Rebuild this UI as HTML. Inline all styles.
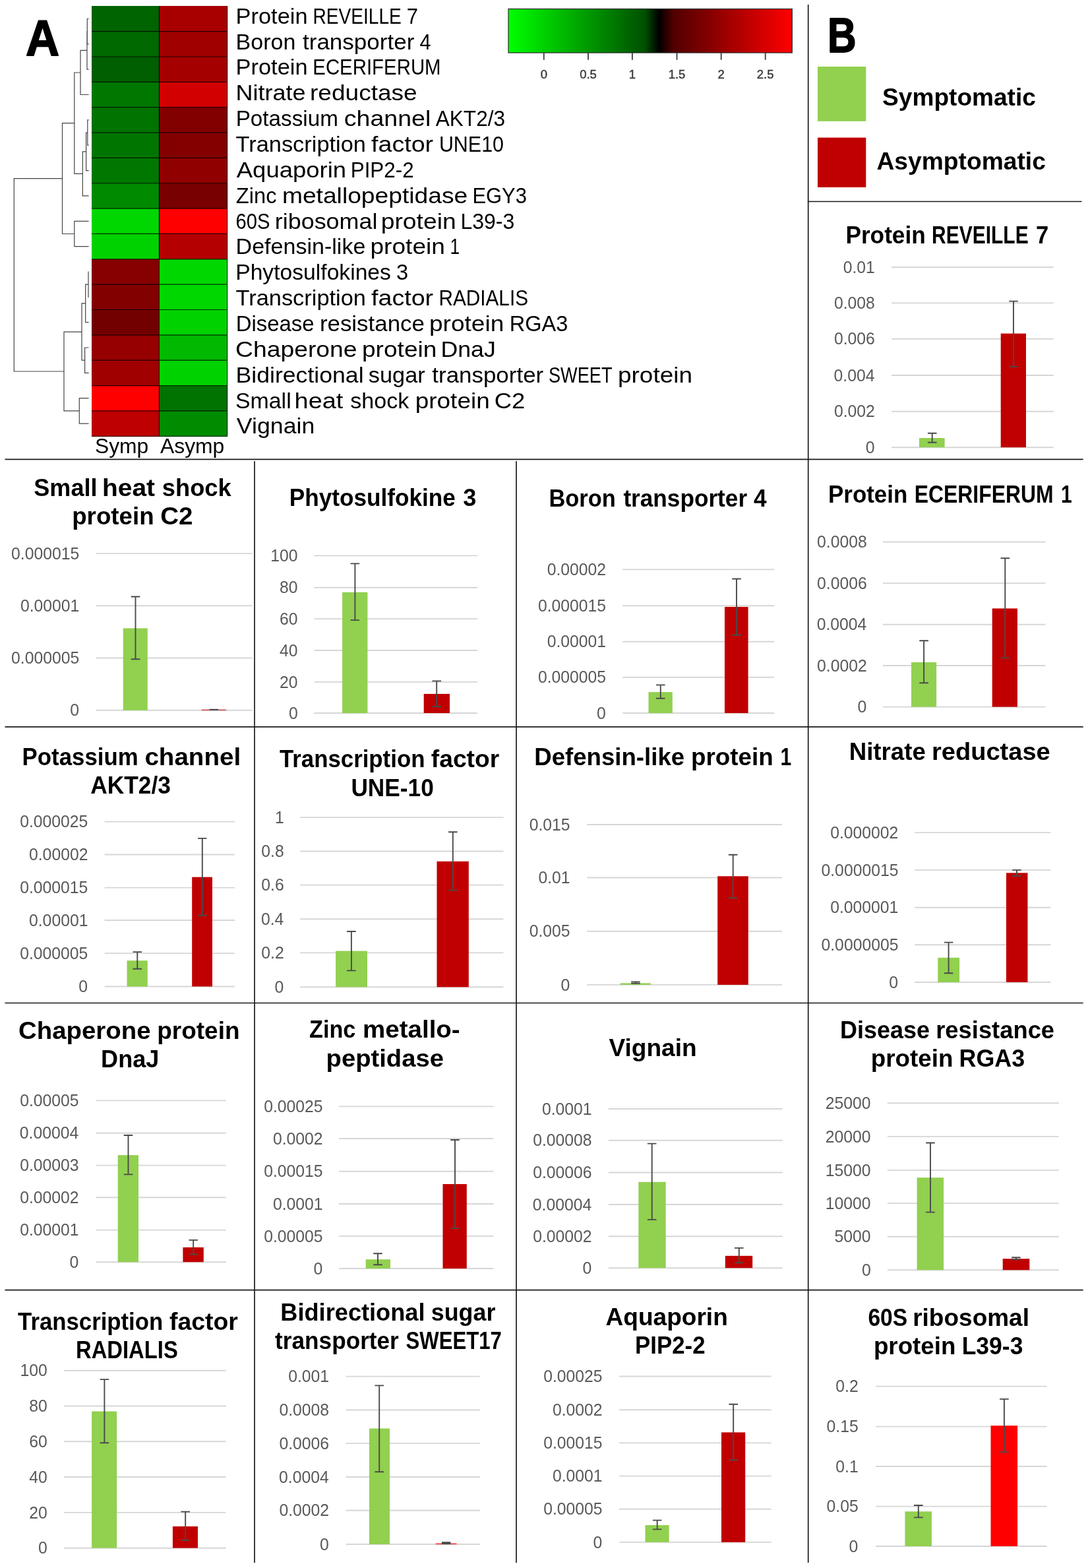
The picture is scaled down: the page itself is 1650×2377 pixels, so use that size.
<!DOCTYPE html>
<html lang="en"><head><meta charset="utf-8"><title>Figure: heatmap and qPCR expression panels</title>
<style>
html,body{margin:0;padding:0;background:#fff}
svg{display:block;width:1650px;height:2377px}
text{font-family:"Liberation Sans",sans-serif}
.tt{font-weight:700;fill:#000}
.big{font-weight:700;fill:#000;stroke:#000;stroke-width:1.8px;stroke-linejoin:round}
.hl{fill:#000}
.al{fill:#595959}
.cbl{fill:#3a3a3a;stroke:#3a3a3a;stroke-width:.45px}
</style></head><body>
<svg width="1650" height="2377" viewBox="0 0 1650 2377">
<defs><linearGradient id="cb" x1="0" y1="0" x2="1" y2="0"><stop offset="0" stop-color="#00ff00"/><stop offset="0.48" stop-color="#005000"/><stop offset="0.531" stop-color="#000000"/><stop offset="0.58" stop-color="#500000"/><stop offset="1" stop-color="#ff0000"/></linearGradient></defs>
<rect width="1650" height="2377" fill="#fff"/>
<g shape-rendering="crispEdges">
<rect x="139.0" y="9.30" width="102.7" height="38.65" fill="rgb(0, 100, 0)"/>
<rect x="241.4" y="9.30" width="103.2" height="38.65" fill="rgb(168, 0, 0)"/>
<rect x="139.0" y="47.65" width="102.7" height="38.65" fill="rgb(0, 105, 0)"/>
<rect x="241.4" y="47.65" width="103.2" height="38.65" fill="rgb(160, 0, 0)"/>
<rect x="139.0" y="86.00" width="102.7" height="38.65" fill="rgb(0, 95, 0)"/>
<rect x="241.4" y="86.00" width="103.2" height="38.65" fill="rgb(165, 0, 0)"/>
<rect x="139.0" y="124.35" width="102.7" height="38.65" fill="rgb(0, 120, 0)"/>
<rect x="241.4" y="124.35" width="103.2" height="38.65" fill="rgb(210, 0, 0)"/>
<rect x="139.0" y="162.70" width="102.7" height="38.65" fill="rgb(0, 115, 0)"/>
<rect x="241.4" y="162.70" width="103.2" height="38.65" fill="rgb(130, 0, 0)"/>
<rect x="139.0" y="201.05" width="102.7" height="38.65" fill="rgb(0, 118, 0)"/>
<rect x="241.4" y="201.05" width="103.2" height="38.65" fill="rgb(132, 0, 0)"/>
<rect x="139.0" y="239.40" width="102.7" height="38.65" fill="rgb(0, 120, 0)"/>
<rect x="241.4" y="239.40" width="103.2" height="38.65" fill="rgb(145, 0, 0)"/>
<rect x="139.0" y="277.75" width="102.7" height="38.65" fill="rgb(0, 138, 0)"/>
<rect x="241.4" y="277.75" width="103.2" height="38.65" fill="rgb(120, 0, 0)"/>
<rect x="139.0" y="316.10" width="102.7" height="38.65" fill="rgb(0, 215, 0)"/>
<rect x="241.4" y="316.10" width="103.2" height="38.65" fill="rgb(255, 0, 0)"/>
<rect x="139.0" y="354.45" width="102.7" height="38.65" fill="rgb(0, 210, 0)"/>
<rect x="241.4" y="354.45" width="103.2" height="38.65" fill="rgb(180, 0, 0)"/>
<rect x="139.0" y="392.80" width="102.7" height="38.65" fill="rgb(135, 0, 0)"/>
<rect x="241.4" y="392.80" width="103.2" height="38.65" fill="rgb(0, 215, 0)"/>
<rect x="139.0" y="431.15" width="102.7" height="38.65" fill="rgb(130, 0, 0)"/>
<rect x="241.4" y="431.15" width="103.2" height="38.65" fill="rgb(0, 215, 0)"/>
<rect x="139.0" y="469.50" width="102.7" height="38.65" fill="rgb(115, 0, 0)"/>
<rect x="241.4" y="469.50" width="103.2" height="38.65" fill="rgb(0, 210, 0)"/>
<rect x="139.0" y="507.85" width="102.7" height="38.65" fill="rgb(150, 0, 0)"/>
<rect x="241.4" y="507.85" width="103.2" height="38.65" fill="rgb(0, 185, 0)"/>
<rect x="139.0" y="546.20" width="102.7" height="38.65" fill="rgb(160, 0, 0)"/>
<rect x="241.4" y="546.20" width="103.2" height="38.65" fill="rgb(0, 210, 0)"/>
<rect x="139.0" y="584.55" width="102.7" height="38.65" fill="rgb(255, 0, 0)"/>
<rect x="241.4" y="584.55" width="103.2" height="38.65" fill="rgb(0, 115, 0)"/>
<rect x="139.0" y="622.90" width="102.7" height="38.65" fill="rgb(190, 0, 0)"/>
<rect x="241.4" y="622.90" width="103.2" height="38.65" fill="rgb(0, 140, 0)"/>
</g>
<path d="M139.0 47.65H344.6M139.0 86.00H344.6M139.0 124.35H344.6M139.0 162.70H344.6M139.0 201.05H344.6M139.0 239.40H344.6M139.0 277.75H344.6M139.0 316.10H344.6M139.0 354.45H344.6M139.0 392.80H344.6M139.0 431.15H344.6M139.0 469.50H344.6M139.0 507.85H344.6M139.0 546.20H344.6M139.0 584.55H344.6M139.0 622.90H344.6M139.0 661.25H344.6M241.4 9.3V661.25M344.6 9.3V661.25" fill="none" stroke="#000" stroke-opacity="0.8" stroke-width="1.2"/>
<text class="hl" y="35.7" font-size="33"><tspan x="357.6" textLength="118.5" lengthAdjust="spacingAndGlyphs">Protein </tspan><tspan x="474.4" textLength="142.3" lengthAdjust="spacingAndGlyphs">REVEILLE </tspan><tspan x="616.8" textLength="17.2" lengthAdjust="spacingAndGlyphs">7</tspan></text>
<text class="hl" y="74.6" font-size="33"><tspan x="357.6" textLength="100.2" lengthAdjust="spacingAndGlyphs">Boron </tspan><tspan x="459.0" textLength="179.1" lengthAdjust="spacingAndGlyphs">transporter </tspan><tspan x="636.5" textLength="17.0" lengthAdjust="spacingAndGlyphs">4</tspan></text>
<text class="hl" y="113.4" font-size="33"><tspan x="357.6" textLength="118.5" lengthAdjust="spacingAndGlyphs">Protein </tspan><tspan x="474.3" textLength="194.3" lengthAdjust="spacingAndGlyphs">ECERIFERUM</tspan></text>
<text class="hl" y="152.2" font-size="33"><tspan x="357.5" textLength="116.0" lengthAdjust="spacingAndGlyphs">Nitrate </tspan><tspan x="470.0" textLength="162.7" lengthAdjust="spacingAndGlyphs">reductase</tspan></text>
<text class="hl" y="191.1" font-size="33"><tspan x="357.7" textLength="164.5" lengthAdjust="spacingAndGlyphs">Potassium </tspan><tspan x="521.8" textLength="141.9" lengthAdjust="spacingAndGlyphs">channel </tspan><tspan x="660.8" textLength="105.2" lengthAdjust="spacingAndGlyphs">AKT2/3</tspan></text>
<text class="hl" y="229.9" font-size="33"><tspan x="357.5" textLength="207.0" lengthAdjust="spacingAndGlyphs">Transcription </tspan><tspan x="563.0" textLength="104.6" lengthAdjust="spacingAndGlyphs">factor </tspan><tspan x="665.9" textLength="98.1" lengthAdjust="spacingAndGlyphs">UNE10</tspan></text>
<text class="hl" y="268.8" font-size="33"><tspan x="358.8" textLength="176.4" lengthAdjust="spacingAndGlyphs">Aquaporin </tspan><tspan x="531.7" textLength="96.0" lengthAdjust="spacingAndGlyphs">PIP2-2</tspan></text>
<text class="hl" y="307.6" font-size="33"><tspan x="357.8" textLength="70.8" lengthAdjust="spacingAndGlyphs">Zinc </tspan><tspan x="427.9" textLength="291.7" lengthAdjust="spacingAndGlyphs">metallopeptidase </tspan><tspan x="716.4" textLength="82.6" lengthAdjust="spacingAndGlyphs">EGY3</tspan></text>
<text class="hl" y="346.5" font-size="33"><tspan x="357.4" textLength="60.1" lengthAdjust="spacingAndGlyphs">60S </tspan><tspan x="416.8" textLength="165.6" lengthAdjust="spacingAndGlyphs">ribosomal </tspan><tspan x="577.7" textLength="124.4" lengthAdjust="spacingAndGlyphs">protein </tspan><tspan x="698.4" textLength="81.9" lengthAdjust="spacingAndGlyphs">L39-3</tspan></text>
<text class="hl" y="385.4" font-size="33"><tspan x="357.6" textLength="206.2" lengthAdjust="spacingAndGlyphs">Defensin-like </tspan><tspan x="561.5" textLength="123.7" lengthAdjust="spacingAndGlyphs">protein </tspan><tspan x="682.6" textLength="14.7" lengthAdjust="spacingAndGlyphs">1</tspan></text>
<text class="hl" y="424.2" font-size="33"><tspan x="357.2" textLength="245.1" lengthAdjust="spacingAndGlyphs">Phytosulfokines </tspan><tspan x="600.9" textLength="18.1" lengthAdjust="spacingAndGlyphs">3</tspan></text>
<text class="hl" y="463.1" font-size="33"><tspan x="357.5" textLength="207.0" lengthAdjust="spacingAndGlyphs">Transcription </tspan><tspan x="563.0" textLength="104.6" lengthAdjust="spacingAndGlyphs">factor </tspan><tspan x="665.5" textLength="135.5" lengthAdjust="spacingAndGlyphs">RADIALIS</tspan></text>
<text class="hl" y="501.9" font-size="33"><tspan x="357.7" textLength="128.0" lengthAdjust="spacingAndGlyphs">Disease </tspan><tspan x="484.9" textLength="168.7" lengthAdjust="spacingAndGlyphs">resistance </tspan><tspan x="651.0" textLength="123.6" lengthAdjust="spacingAndGlyphs">protein </tspan><tspan x="772.7" textLength="88.6" lengthAdjust="spacingAndGlyphs">RGA3</tspan></text>
<text class="hl" y="540.8" font-size="33"><tspan x="357.1" textLength="194.8" lengthAdjust="spacingAndGlyphs">Chaperone </tspan><tspan x="549.0" textLength="123.7" lengthAdjust="spacingAndGlyphs">protein </tspan><tspan x="668.5" textLength="83.3" lengthAdjust="spacingAndGlyphs">DnaJ</tspan></text>
<text class="hl" y="579.6" font-size="33"><tspan x="357.5" textLength="204.0" lengthAdjust="spacingAndGlyphs">Bidirectional </tspan><tspan x="558.8" textLength="95.4" lengthAdjust="spacingAndGlyphs">sugar </tspan><tspan x="655.3" textLength="178.6" lengthAdjust="spacingAndGlyphs">transporter </tspan><tspan x="832.0" textLength="103.6" lengthAdjust="spacingAndGlyphs">SWEET </tspan><tspan x="937.0" textLength="113.0" lengthAdjust="spacingAndGlyphs">protein</tspan></text>
<text class="hl" y="618.5" font-size="33"><tspan x="356.9" textLength="94.2" lengthAdjust="spacingAndGlyphs">Small </tspan><tspan x="446.6" textLength="84.3" lengthAdjust="spacingAndGlyphs">heat </tspan><tspan x="531.2" textLength="98.5" lengthAdjust="spacingAndGlyphs">shock </tspan><tspan x="629.7" textLength="123.3" lengthAdjust="spacingAndGlyphs">protein </tspan><tspan x="749.7" textLength="46.5" lengthAdjust="spacingAndGlyphs">C2</tspan></text>
<text class="hl" y="657.3" font-size="33"><tspan x="358.8" textLength="118.5" lengthAdjust="spacingAndGlyphs">Vignain</tspan></text>
<text class="hl" y="687.0" font-size="32"><tspan x="144.0" textLength="81.3" lengthAdjust="spacingAndGlyphs">Symp</tspan></text>
<text class="hl" y="687.0" font-size="32"><tspan x="243.0" textLength="97.3" lengthAdjust="spacingAndGlyphs">Asymp</tspan></text>
<path d="M134.6 28.5H132.3V66.8H134.6M132.3 47.7H132.0V105.2H134.6M132.0 76.4H122.0V143.5H134.6M134.6 181.9H132.8V220.2H134.6M132.8 201.1H130.6V258.6H134.6M130.6 229.8H125.3V296.9H134.6M122.0 110.0H112.8V263.4H125.3M134.6 335.3H112.8V373.6H134.6M112.8 186.7H94.5V354.5H112.8M134.6 412.0H134.0V450.3H134.6M134.0 431.2H129.7V488.7H134.6M134.6 527.0H128.6V565.4H134.6M129.7 459.9H124.0V546.2H128.6M134.6 603.7H120.3V642.1H134.6M124.0 503.1H97.0V622.9H120.3M94.5 270.6H21.3V563.0H97.0" fill="none" stroke="#444" stroke-width="1.2"/>
<rect x="771.0" y="13.5" width="430.3" height="66.5" fill="url(#cb)" stroke="#262626" stroke-width="1.2"/>
<path stroke="#444" stroke-width="1.9" fill="none" d="M824.8 80.0V90.8M892.0 80.0V90.8M958.9 80.0V90.8M1026.5 80.0V90.8M1093.7 80.0V90.8M1160.7 80.0V90.8"/>
<text class="cbl" x="824.8" y="119.2" font-size="18.5" text-anchor="middle">0</text>
<text class="cbl" x="892.0" y="119.2" font-size="18.5" text-anchor="middle">0.5</text>
<text class="cbl" x="958.9" y="119.2" font-size="18.5" text-anchor="middle">1</text>
<text class="cbl" x="1026.5" y="119.2" font-size="18.5" text-anchor="middle">1.5</text>
<text class="cbl" x="1093.7" y="119.2" font-size="18.5" text-anchor="middle">2</text>
<text class="cbl" x="1160.7" y="119.2" font-size="18.5" text-anchor="middle">2.5</text>
<text class="big" y="84.1" font-size="76.2"><tspan x="39.0" textLength="51.1" lengthAdjust="spacingAndGlyphs">A</tspan></text>
<text class="big" y="79.4" font-size="74.5"><tspan x="1254.9" textLength="43.6" lengthAdjust="spacingAndGlyphs">B</tspan></text>
<rect x="1240" y="101" width="73.3" height="82.8" fill="#92d050"/>
<rect x="1240" y="208.6" width="73.3" height="75.3" fill="#c00000"/>
<text class="tt" y="160.0" font-size="37.5"><tspan x="1338.1" textLength="232.8" lengthAdjust="spacingAndGlyphs">Symptomatic</tspan></text>
<text class="tt" y="257.0" font-size="37.5"><tspan x="1329.4" textLength="256.5" lengthAdjust="spacingAndGlyphs">Asymptomatic</tspan></text>
<g>
<text class="tt" y="369.0" font-size="37.5"><tspan x="1282.4" textLength="131.2" lengthAdjust="spacingAndGlyphs">Protein </tspan><tspan x="1413.0" textLength="155.0" lengthAdjust="spacingAndGlyphs">REVEILLE </tspan><tspan x="1571.1" textLength="19.3" lengthAdjust="spacingAndGlyphs">7</tspan></text>
<path stroke="#d6d6d6" stroke-width="1.9" fill="none" d="M1352.2 405H1597.8M1352.2 459.4H1597.8M1352.2 513.8H1597.8M1352.2 569H1597.8M1352.2 623.7H1597.8M1352.2 678.2H1597.8"/>
<text class="al" y="413.6" font-size="25.9"><tspan x="1278.7" textLength="48.1" lengthAdjust="spacingAndGlyphs">0.01</tspan></text>
<text class="al" y="468.0" font-size="25.9"><tspan x="1264.9" textLength="61.9" lengthAdjust="spacingAndGlyphs">0.008</tspan></text>
<text class="al" y="522.4" font-size="25.9"><tspan x="1264.9" textLength="61.9" lengthAdjust="spacingAndGlyphs">0.006</tspan></text>
<text class="al" y="577.6" font-size="25.9"><tspan x="1264.5" textLength="61.9" lengthAdjust="spacingAndGlyphs">0.004</tspan></text>
<text class="al" y="632.3" font-size="25.9"><tspan x="1264.9" textLength="61.9" lengthAdjust="spacingAndGlyphs">0.002</tspan></text>
<text class="al" y="686.8" font-size="25.9"><tspan x="1312.7" textLength="13.8" lengthAdjust="spacingAndGlyphs">0</tspan></text>
<rect x="1394" y="664" width="38.6" height="14.2" fill="#92d050"/>
<rect x="1517.7" y="505.6" width="38.3" height="172.6" fill="#c00000"/>
<path stroke="#4a4a4a" stroke-width="1.9" fill="none" d="M1413.7 656.7V670.8M1406.9 656.7h13.6M1406.9 670.8h13.6M1537 456.6V555.8M1530.2 456.6h13.6M1530.2 555.8h13.6"/>
</g>
<g>
<text class="tt" y="751.9" font-size="37.5"><tspan x="51.3" textLength="106.2" lengthAdjust="spacingAndGlyphs">Small </tspan><tspan x="155.0" textLength="90.8" lengthAdjust="spacingAndGlyphs">heat </tspan><tspan x="245.8" textLength="104.9" lengthAdjust="spacingAndGlyphs">shock</tspan></text>
<text class="tt" y="795.3" font-size="37.5"><tspan x="109.2" textLength="134.6" lengthAdjust="spacingAndGlyphs">protein </tspan><tspan x="243.2" textLength="49.3" lengthAdjust="spacingAndGlyphs">C2</tspan></text>
<path stroke="#d6d6d6" stroke-width="1.9" fill="none" d="M145.9 839.1H382.7M145.9 918.3H382.7M145.9 997.5H382.7M145.9 1076.7H382.7"/>
<text class="al" y="847.7" font-size="25.9"><tspan x="17.1" textLength="103.2" lengthAdjust="spacingAndGlyphs">0.000015</tspan></text>
<text class="al" y="926.9" font-size="25.9"><tspan x="30.9" textLength="89.4" lengthAdjust="spacingAndGlyphs">0.00001</tspan></text>
<text class="al" y="1006.1" font-size="25.9"><tspan x="17.1" textLength="103.2" lengthAdjust="spacingAndGlyphs">0.000005</tspan></text>
<text class="al" y="1085.3" font-size="25.9"><tspan x="106.2" textLength="13.8" lengthAdjust="spacingAndGlyphs">0</tspan></text>
<rect x="186.7" y="952.4" width="37.1" height="124.3" fill="#92d050"/>
<rect x="305.8" y="1075.7" width="37.1" height="1.0" fill="#c00000"/>
<path stroke="#4a4a4a" stroke-width="1.9" fill="none" d="M205.5 904.5V999.3M198.7 904.5h13.6M198.7 999.3h13.6M324.3 1075.6V1076.0M317.5 1075.6h13.6M317.5 1076.0h13.6"/>
</g>
<g>
<text class="tt" y="767.2" font-size="37.5"><tspan x="438.7" textLength="262.0" lengthAdjust="spacingAndGlyphs">Phytosulfokine </tspan><tspan x="702.2" textLength="20.1" lengthAdjust="spacingAndGlyphs">3</tspan></text>
<path stroke="#d6d6d6" stroke-width="1.9" fill="none" d="M476.5 842.4H724.1M476.5 890.8H724.1M476.5 938.1H724.1M476.5 986H724.1M476.5 1033.9H724.1M476.5 1081H724.1"/>
<text class="al" y="851.0" font-size="25.9"><tspan x="410.3" textLength="41.3" lengthAdjust="spacingAndGlyphs">100</tspan></text>
<text class="al" y="899.4" font-size="25.9"><tspan x="424.1" textLength="27.5" lengthAdjust="spacingAndGlyphs">80</tspan></text>
<text class="al" y="946.7" font-size="25.9"><tspan x="424.1" textLength="27.5" lengthAdjust="spacingAndGlyphs">60</tspan></text>
<text class="al" y="994.6" font-size="25.9"><tspan x="424.1" textLength="27.5" lengthAdjust="spacingAndGlyphs">40</tspan></text>
<text class="al" y="1042.5" font-size="25.9"><tspan x="424.1" textLength="27.5" lengthAdjust="spacingAndGlyphs">20</tspan></text>
<text class="al" y="1089.6" font-size="25.9"><tspan x="437.9" textLength="13.8" lengthAdjust="spacingAndGlyphs">0</tspan></text>
<rect x="519.1" y="897.8" width="38.3" height="183.2" fill="#92d050"/>
<rect x="642.7" y="1051.9" width="39.3" height="29.1" fill="#c00000"/>
<path stroke="#4a4a4a" stroke-width="1.9" fill="none" d="M538.4 854.4V940.1M531.6 854.4h13.6M531.6 940.1h13.6M662.2 1032.4V1071.2M655.4 1032.4h13.6M655.4 1071.2h13.6"/>
</g>
<g>
<text class="tt" y="767.7" font-size="37.5"><tspan x="832.4" textLength="110.9" lengthAdjust="spacingAndGlyphs">Boron </tspan><tspan x="945.4" textLength="197.5" lengthAdjust="spacingAndGlyphs">transporter </tspan><tspan x="1142.9" textLength="19.6" lengthAdjust="spacingAndGlyphs">4</tspan></text>
<path stroke="#d6d6d6" stroke-width="1.9" fill="none" d="M944.2 863.4H1174.2M944.2 918.3H1174.2M944.2 972.7H1174.2M944.2 1026.8H1174.2M944.2 1081H1174.2"/>
<text class="al" y="872.0" font-size="25.9"><tspan x="829.7" textLength="89.4" lengthAdjust="spacingAndGlyphs">0.00002</tspan></text>
<text class="al" y="926.9" font-size="25.9"><tspan x="815.9" textLength="103.2" lengthAdjust="spacingAndGlyphs">0.000015</tspan></text>
<text class="al" y="981.3" font-size="25.9"><tspan x="829.7" textLength="89.4" lengthAdjust="spacingAndGlyphs">0.00001</tspan></text>
<text class="al" y="1035.4" font-size="25.9"><tspan x="815.9" textLength="103.2" lengthAdjust="spacingAndGlyphs">0.000005</tspan></text>
<text class="al" y="1089.6" font-size="25.9"><tspan x="905.0" textLength="13.8" lengthAdjust="spacingAndGlyphs">0</tspan></text>
<rect x="983.5" y="1049.1" width="36.3" height="31.9" fill="#92d050"/>
<rect x="1099" y="920" width="35.6" height="161.0" fill="#c00000"/>
<path stroke="#4a4a4a" stroke-width="1.9" fill="none" d="M1001.8 1038.4V1058.7M995.0 1038.4h13.6M995.0 1058.7h13.6M1117 877.5V962.7M1110.2 877.5h13.6M1110.2 962.7h13.6"/>
</g>
<g>
<text class="tt" y="762.2" font-size="37.5"><tspan x="1256.0" textLength="130.0" lengthAdjust="spacingAndGlyphs">Protein </tspan><tspan x="1386.7" textLength="219.8" lengthAdjust="spacingAndGlyphs">ECERIFERUM </tspan><tspan x="1609.0" textLength="16.7" lengthAdjust="spacingAndGlyphs">1</tspan></text>
<path stroke="#d6d6d6" stroke-width="1.9" fill="none" d="M1339 821.5H1585.5M1339 884.1H1585.5M1339 946.7H1585.5M1339 1009H1585.5M1339 1071.6H1585.5"/>
<text class="al" y="830.1" font-size="25.9"><tspan x="1239.0" textLength="75.7" lengthAdjust="spacingAndGlyphs">0.0008</tspan></text>
<text class="al" y="892.7" font-size="25.9"><tspan x="1239.0" textLength="75.7" lengthAdjust="spacingAndGlyphs">0.0006</tspan></text>
<text class="al" y="955.3" font-size="25.9"><tspan x="1238.7" textLength="75.7" lengthAdjust="spacingAndGlyphs">0.0004</tspan></text>
<text class="al" y="1017.6" font-size="25.9"><tspan x="1239.0" textLength="75.7" lengthAdjust="spacingAndGlyphs">0.0002</tspan></text>
<text class="al" y="1080.2" font-size="25.9"><tspan x="1300.6" textLength="13.8" lengthAdjust="spacingAndGlyphs">0</tspan></text>
<rect x="1382" y="1004" width="38.1" height="67.6" fill="#92d050"/>
<rect x="1504.7" y="922.4" width="38.3" height="149.2" fill="#c00000"/>
<path stroke="#4a4a4a" stroke-width="1.9" fill="none" d="M1401.1 971.2V1035.2M1394.3 971.2h13.6M1394.3 1035.2h13.6M1524.3 846.3V997.4M1517.5 846.3h13.6M1517.5 997.4h13.6"/>
</g>
<g>
<text class="tt" y="1159.7" font-size="37.5"><tspan x="33.6" textLength="185.7" lengthAdjust="spacingAndGlyphs">Potassium </tspan><tspan x="219.4" textLength="145.8" lengthAdjust="spacingAndGlyphs">channel</tspan></text>
<text class="tt" y="1203.3" font-size="37.5"><tspan x="137.2" textLength="121.7" lengthAdjust="spacingAndGlyphs">AKT2/3</tspan></text>
<path stroke="#d6d6d6" stroke-width="1.9" fill="none" d="M158.6 1245.6H355.9M158.6 1295.5H355.9M158.6 1345.6H355.9M158.6 1395H355.9M158.6 1445.1H355.9M158.6 1495.5H355.9"/>
<text class="al" y="1254.2" font-size="25.9"><tspan x="30.2" textLength="103.2" lengthAdjust="spacingAndGlyphs">0.000025</tspan></text>
<text class="al" y="1304.1" font-size="25.9"><tspan x="44.0" textLength="89.4" lengthAdjust="spacingAndGlyphs">0.00002</tspan></text>
<text class="al" y="1354.2" font-size="25.9"><tspan x="30.2" textLength="103.2" lengthAdjust="spacingAndGlyphs">0.000015</tspan></text>
<text class="al" y="1403.6" font-size="25.9"><tspan x="44.0" textLength="89.4" lengthAdjust="spacingAndGlyphs">0.00001</tspan></text>
<text class="al" y="1453.7" font-size="25.9"><tspan x="30.2" textLength="103.2" lengthAdjust="spacingAndGlyphs">0.000005</tspan></text>
<text class="al" y="1504.1" font-size="25.9"><tspan x="119.3" textLength="13.8" lengthAdjust="spacingAndGlyphs">0</tspan></text>
<rect x="192.5" y="1456.2" width="31.3" height="39.3" fill="#92d050"/>
<rect x="291.2" y="1329.6" width="30.8" height="165.9" fill="#c00000"/>
<path stroke="#4a4a4a" stroke-width="1.9" fill="none" d="M208.3 1443.1V1468.7M201.5 1443.1h13.6M201.5 1468.7h13.6M306.8 1270.9V1387.7M300.0 1270.9h13.6M300.0 1387.7h13.6"/>
</g>
<g>
<text class="tt" y="1163.2" font-size="37.5"><tspan x="423.9" textLength="230.2" lengthAdjust="spacingAndGlyphs">Transcription </tspan><tspan x="653.8" textLength="103.4" lengthAdjust="spacingAndGlyphs">factor</tspan></text>
<text class="tt" y="1206.5" font-size="37.5"><tspan x="532.4" textLength="125.4" lengthAdjust="spacingAndGlyphs">UNE-10</tspan></text>
<path stroke="#d6d6d6" stroke-width="1.9" fill="none" d="M455.2 1239.1H763.5M455.2 1290.5H763.5M455.2 1341.6H763.5M455.2 1393.2H763.5M455.2 1444.4H763.5M455.2 1496.3H763.5"/>
<text class="al" y="1247.7" font-size="25.9"><tspan x="416.9" textLength="13.8" lengthAdjust="spacingAndGlyphs">1</tspan></text>
<text class="al" y="1299.1" font-size="25.9"><tspan x="396.3" textLength="34.4" lengthAdjust="spacingAndGlyphs">0.8</tspan></text>
<text class="al" y="1350.2" font-size="25.9"><tspan x="396.3" textLength="34.4" lengthAdjust="spacingAndGlyphs">0.6</tspan></text>
<text class="al" y="1401.8" font-size="25.9"><tspan x="395.9" textLength="34.4" lengthAdjust="spacingAndGlyphs">0.4</tspan></text>
<text class="al" y="1453.0" font-size="25.9"><tspan x="396.3" textLength="34.4" lengthAdjust="spacingAndGlyphs">0.2</tspan></text>
<text class="al" y="1504.9" font-size="25.9"><tspan x="416.6" textLength="13.8" lengthAdjust="spacingAndGlyphs">0</tspan></text>
<rect x="509.1" y="1441.6" width="47.9" height="54.7" fill="#92d050"/>
<rect x="662.5" y="1305.8" width="48.3" height="190.5" fill="#c00000"/>
<path stroke="#4a4a4a" stroke-width="1.9" fill="none" d="M532.9 1412V1471.4M526.1 1412h13.6M526.1 1471.4h13.6M686.8 1261.2V1349.6M680.0 1261.2h13.6M680.0 1349.6h13.6"/>
</g>
<g>
<text class="tt" y="1160.3" font-size="37.5"><tspan x="810.2" textLength="238.1" lengthAdjust="spacingAndGlyphs">Defensin-like </tspan><tspan x="1047.9" textLength="135.1" lengthAdjust="spacingAndGlyphs">protein </tspan><tspan x="1183.4" textLength="16.7" lengthAdjust="spacingAndGlyphs">1</tspan></text>
<path stroke="#d6d6d6" stroke-width="1.9" fill="none" d="M890.3 1250H1185.9M890.3 1330.5H1185.9M890.3 1411.8H1185.9M890.3 1492.9H1185.9"/>
<text class="al" y="1258.6" font-size="25.9"><tspan x="802.7" textLength="61.9" lengthAdjust="spacingAndGlyphs">0.015</tspan></text>
<text class="al" y="1339.1" font-size="25.9"><tspan x="816.5" textLength="48.1" lengthAdjust="spacingAndGlyphs">0.01</tspan></text>
<text class="al" y="1420.4" font-size="25.9"><tspan x="802.7" textLength="61.9" lengthAdjust="spacingAndGlyphs">0.005</tspan></text>
<text class="al" y="1501.5" font-size="25.9"><tspan x="850.5" textLength="13.8" lengthAdjust="spacingAndGlyphs">0</tspan></text>
<rect x="940.7" y="1490.4" width="46.3" height="2.5" fill="#92d050"/>
<rect x="1088.2" y="1328.3" width="46.6" height="164.6" fill="#c00000"/>
<path stroke="#4a4a4a" stroke-width="1.9" fill="none" d="M963.9 1488.4V1490.8M957.1 1488.4h13.6M957.1 1490.8h13.6M1111.7 1295.7V1361.3M1104.9 1295.7h13.6M1104.9 1361.3h13.6"/>
</g>
<g>
<text class="tt" y="1152.3" font-size="37.5"><tspan x="1287.7" textLength="126.4" lengthAdjust="spacingAndGlyphs">Nitrate </tspan><tspan x="1413.0" textLength="179.8" lengthAdjust="spacingAndGlyphs">reductase</tspan></text>
<path stroke="#d6d6d6" stroke-width="1.9" fill="none" d="M1387.3 1262.1H1593.5M1387.3 1318.9H1593.5M1387.3 1375.7H1593.5M1387.3 1432.2H1593.5M1387.3 1489H1593.5"/>
<text class="al" y="1270.7" font-size="25.9"><tspan x="1259.2" textLength="103.2" lengthAdjust="spacingAndGlyphs">0.000002</tspan></text>
<text class="al" y="1327.5" font-size="25.9"><tspan x="1245.5" textLength="116.9" lengthAdjust="spacingAndGlyphs">0.0000015</tspan></text>
<text class="al" y="1384.3" font-size="25.9"><tspan x="1259.2" textLength="103.2" lengthAdjust="spacingAndGlyphs">0.000001</tspan></text>
<text class="al" y="1440.8" font-size="25.9"><tspan x="1245.5" textLength="116.9" lengthAdjust="spacingAndGlyphs">0.0000005</tspan></text>
<text class="al" y="1497.6" font-size="25.9"><tspan x="1348.3" textLength="13.8" lengthAdjust="spacingAndGlyphs">0</tspan></text>
<rect x="1422.3" y="1451.8" width="32.8" height="37.2" fill="#92d050"/>
<rect x="1526" y="1323.3" width="32.5" height="165.7" fill="#c00000"/>
<path stroke="#4a4a4a" stroke-width="1.9" fill="none" d="M1438.6 1428.6V1475.2M1431.8 1428.6h13.6M1431.8 1475.2h13.6M1542 1318.9V1328M1535.2 1318.9h13.6M1535.2 1328h13.6"/>
</g>
<g>
<text class="tt" y="1575.2" font-size="37.5"><tspan x="28.1" textLength="211.1" lengthAdjust="spacingAndGlyphs">Chaperone </tspan><tspan x="238.3" textLength="125.2" lengthAdjust="spacingAndGlyphs">protein</tspan></text>
<text class="tt" y="1618.3" font-size="37.5"><tspan x="153.1" textLength="88.2" lengthAdjust="spacingAndGlyphs">DnaJ</tspan></text>
<path stroke="#d6d6d6" stroke-width="1.9" fill="none" d="M145.4 1668.4H342.6M145.4 1717.8H342.6M145.4 1766.6H342.6M145.4 1815.3H342.6M145.4 1864.6H342.6M145.4 1913.2H342.6"/>
<text class="al" y="1677.0" font-size="25.9"><tspan x="30.2" textLength="89.4" lengthAdjust="spacingAndGlyphs">0.00005</tspan></text>
<text class="al" y="1726.4" font-size="25.9"><tspan x="29.8" textLength="89.4" lengthAdjust="spacingAndGlyphs">0.00004</tspan></text>
<text class="al" y="1775.2" font-size="25.9"><tspan x="30.2" textLength="89.4" lengthAdjust="spacingAndGlyphs">0.00003</tspan></text>
<text class="al" y="1823.9" font-size="25.9"><tspan x="30.2" textLength="89.4" lengthAdjust="spacingAndGlyphs">0.00002</tspan></text>
<text class="al" y="1873.2" font-size="25.9"><tspan x="30.2" textLength="89.4" lengthAdjust="spacingAndGlyphs">0.00001</tspan></text>
<text class="al" y="1921.8" font-size="25.9"><tspan x="105.5" textLength="13.8" lengthAdjust="spacingAndGlyphs">0</tspan></text>
<rect x="178.7" y="1751.1" width="31.3" height="162.1" fill="#92d050"/>
<rect x="277.4" y="1890.9" width="31.4" height="22.3" fill="#c00000"/>
<path stroke="#4a4a4a" stroke-width="1.9" fill="none" d="M194.5 1721V1780.4M187.7 1721h13.6M187.7 1780.4h13.6M293.2 1879.9V1901.5M286.4 1879.9h13.6M286.4 1901.5h13.6"/>
</g>
<g>
<text class="tt" y="1573.4" font-size="37.5"><tspan x="469.0" textLength="79.8" lengthAdjust="spacingAndGlyphs">Zinc </tspan><tspan x="550.0" textLength="147.7" lengthAdjust="spacingAndGlyphs">metallo-</tspan></text>
<text class="tt" y="1616.5" font-size="37.5"><tspan x="494.6" textLength="178.3" lengthAdjust="spacingAndGlyphs">peptidase</tspan></text>
<path stroke="#d6d6d6" stroke-width="1.9" fill="none" d="M514.1 1677.4H748.4M514.1 1726H748.4M514.1 1775.7H748.4M514.1 1825H748.4M514.1 1873.9H748.4M514.1 1923H748.4"/>
<text class="al" y="1686.0" font-size="25.9"><tspan x="400.2" textLength="89.4" lengthAdjust="spacingAndGlyphs">0.00025</tspan></text>
<text class="al" y="1734.6" font-size="25.9"><tspan x="413.9" textLength="75.7" lengthAdjust="spacingAndGlyphs">0.0002</tspan></text>
<text class="al" y="1784.3" font-size="25.9"><tspan x="400.2" textLength="89.4" lengthAdjust="spacingAndGlyphs">0.00015</tspan></text>
<text class="al" y="1833.6" font-size="25.9"><tspan x="413.9" textLength="75.7" lengthAdjust="spacingAndGlyphs">0.0001</tspan></text>
<text class="al" y="1882.5" font-size="25.9"><tspan x="400.2" textLength="89.4" lengthAdjust="spacingAndGlyphs">0.00005</tspan></text>
<text class="al" y="1931.6" font-size="25.9"><tspan x="475.5" textLength="13.8" lengthAdjust="spacingAndGlyphs">0</tspan></text>
<rect x="554.7" y="1909.2" width="37.3" height="13.8" fill="#92d050"/>
<rect x="671.5" y="1795" width="36.3" height="128.0" fill="#c00000"/>
<path stroke="#4a4a4a" stroke-width="1.9" fill="none" d="M573 1900.2V1917.3M566.2 1900.2h13.6M566.2 1917.3h13.6M690 1728V1862.1M683.2 1728h13.6M683.2 1862.1h13.6"/>
</g>
<g>
<text class="tt" y="1600.5" font-size="37.5"><tspan x="923.4" textLength="133.3" lengthAdjust="spacingAndGlyphs">Vignain</tspan></text>
<path stroke="#d6d6d6" stroke-width="1.9" fill="none" d="M922.8 1681H1186.7M922.8 1728.7H1186.7M922.8 1777.5H1186.7M922.8 1826H1186.7M922.8 1874.3H1186.7M922.8 1922.2H1186.7"/>
<text class="al" y="1689.6" font-size="25.9"><tspan x="821.9" textLength="75.7" lengthAdjust="spacingAndGlyphs">0.0001</tspan></text>
<text class="al" y="1737.3" font-size="25.9"><tspan x="808.2" textLength="89.4" lengthAdjust="spacingAndGlyphs">0.00008</tspan></text>
<text class="al" y="1786.1" font-size="25.9"><tspan x="808.2" textLength="89.4" lengthAdjust="spacingAndGlyphs">0.00006</tspan></text>
<text class="al" y="1834.6" font-size="25.9"><tspan x="807.8" textLength="89.4" lengthAdjust="spacingAndGlyphs">0.00004</tspan></text>
<text class="al" y="1882.9" font-size="25.9"><tspan x="808.2" textLength="89.4" lengthAdjust="spacingAndGlyphs">0.00002</tspan></text>
<text class="al" y="1930.8" font-size="25.9"><tspan x="883.5" textLength="13.8" lengthAdjust="spacingAndGlyphs">0</tspan></text>
<rect x="968.3" y="1791.8" width="41.4" height="130.4" fill="#92d050"/>
<rect x="1099.8" y="1903.8" width="41.4" height="18.4" fill="#c00000"/>
<path stroke="#4a4a4a" stroke-width="1.9" fill="none" d="M988.7 1733.6V1848.9M981.9 1733.6h13.6M981.9 1848.9h13.6M1120.8 1891.9V1914.2M1114.0 1891.9h13.6M1114.0 1914.2h13.6"/>
</g>
<g>
<text class="tt" y="1573.7" font-size="37.5"><tspan x="1274.0" textLength="146.0" lengthAdjust="spacingAndGlyphs">Disease </tspan><tspan x="1419.2" textLength="179.9" lengthAdjust="spacingAndGlyphs">resistance</tspan></text>
<text class="tt" y="1616.5" font-size="37.5"><tspan x="1320.7" textLength="135.1" lengthAdjust="spacingAndGlyphs">protein </tspan><tspan x="1454.6" textLength="99.6" lengthAdjust="spacingAndGlyphs">RGA3</tspan></text>
<path stroke="#d6d6d6" stroke-width="1.9" fill="none" d="M1345.9 1672.2H1605.9M1345.9 1722.9H1605.9M1345.9 1773.9H1605.9M1345.9 1824.1H1605.9M1345.9 1874.8H1605.9M1345.9 1925.3H1605.9"/>
<text class="al" y="1680.8" font-size="25.9"><tspan x="1251.8" textLength="68.8" lengthAdjust="spacingAndGlyphs">25000</tspan></text>
<text class="al" y="1731.5" font-size="25.9"><tspan x="1251.8" textLength="68.8" lengthAdjust="spacingAndGlyphs">20000</tspan></text>
<text class="al" y="1782.5" font-size="25.9"><tspan x="1251.8" textLength="68.8" lengthAdjust="spacingAndGlyphs">15000</tspan></text>
<text class="al" y="1832.7" font-size="25.9"><tspan x="1251.8" textLength="68.8" lengthAdjust="spacingAndGlyphs">10000</tspan></text>
<text class="al" y="1883.4" font-size="25.9"><tspan x="1265.6" textLength="55.0" lengthAdjust="spacingAndGlyphs">5000</tspan></text>
<text class="al" y="1933.9" font-size="25.9"><tspan x="1306.9" textLength="13.8" lengthAdjust="spacingAndGlyphs">0</tspan></text>
<rect x="1390.6" y="1785.2" width="40.5" height="140.1" fill="#92d050"/>
<rect x="1520.7" y="1908.2" width="40.6" height="17.1" fill="#c00000"/>
<path stroke="#4a4a4a" stroke-width="1.9" fill="none" d="M1411 1732.5V1837.6M1404.2 1732.5h13.6M1404.2 1837.6h13.6M1540.9 1906.3V1909.4M1534.1 1906.3h13.6M1534.1 1909.4h13.6"/>
</g>
<g>
<text class="tt" y="2015.9" font-size="37.5"><tspan x="27.1" textLength="229.8" lengthAdjust="spacingAndGlyphs">Transcription </tspan><tspan x="257.0" textLength="103.9" lengthAdjust="spacingAndGlyphs">factor</tspan></text>
<text class="tt" y="2059.0" font-size="37.5"><tspan x="115.0" textLength="154.8" lengthAdjust="spacingAndGlyphs">RADIALIS</tspan></text>
<path stroke="#d6d6d6" stroke-width="1.9" fill="none" d="M97.2 2077.8H342.6M97.2 2131.5H342.6M97.2 2185.3H342.6M97.2 2239H342.6M97.2 2292.9H342.6M97.2 2346.7H342.6"/>
<text class="al" y="2086.4" font-size="25.9"><tspan x="30.5" textLength="41.3" lengthAdjust="spacingAndGlyphs">100</tspan></text>
<text class="al" y="2140.1" font-size="25.9"><tspan x="44.3" textLength="27.5" lengthAdjust="spacingAndGlyphs">80</tspan></text>
<text class="al" y="2193.9" font-size="25.9"><tspan x="44.3" textLength="27.5" lengthAdjust="spacingAndGlyphs">60</tspan></text>
<text class="al" y="2247.6" font-size="25.9"><tspan x="44.3" textLength="27.5" lengthAdjust="spacingAndGlyphs">40</tspan></text>
<text class="al" y="2301.5" font-size="25.9"><tspan x="44.3" textLength="27.5" lengthAdjust="spacingAndGlyphs">20</tspan></text>
<text class="al" y="2355.3" font-size="25.9"><tspan x="58.1" textLength="13.8" lengthAdjust="spacingAndGlyphs">0</tspan></text>
<rect x="139.1" y="2139.5" width="38.1" height="207.2" fill="#92d050"/>
<rect x="261.9" y="2313.9" width="38.1" height="32.8" fill="#c00000"/>
<path stroke="#4a4a4a" stroke-width="1.9" fill="none" d="M158.4 2091.1V2187.3M151.6 2091.1h13.6M151.6 2187.3h13.6M281.2 2291.6V2335M274.4 2291.6h13.6M274.4 2335h13.6"/>
</g>
<g>
<text class="tt" y="2002.1" font-size="37.5"><tspan x="425.3" textLength="229.3" lengthAdjust="spacingAndGlyphs">Bidirectional </tspan><tspan x="653.8" textLength="97.6" lengthAdjust="spacingAndGlyphs">sugar</tspan></text>
<text class="tt" y="2045.2" font-size="37.5"><tspan x="417.1" textLength="197.5" lengthAdjust="spacingAndGlyphs">transporter </tspan><tspan x="615.6" textLength="145.3" lengthAdjust="spacingAndGlyphs">SWEET17</tspan></text>
<path stroke="#d6d6d6" stroke-width="1.9" fill="none" d="M524.6 2086.6H727.9M524.6 2137.5H727.9M524.6 2188.1H727.9M524.6 2239H727.9M524.6 2289.8H727.9M524.6 2341H727.9"/>
<text class="al" y="2095.2" font-size="25.9"><tspan x="437.2" textLength="61.9" lengthAdjust="spacingAndGlyphs">0.001</tspan></text>
<text class="al" y="2146.1" font-size="25.9"><tspan x="423.4" textLength="75.7" lengthAdjust="spacingAndGlyphs">0.0008</tspan></text>
<text class="al" y="2196.7" font-size="25.9"><tspan x="423.4" textLength="75.7" lengthAdjust="spacingAndGlyphs">0.0006</tspan></text>
<text class="al" y="2247.6" font-size="25.9"><tspan x="423.1" textLength="75.7" lengthAdjust="spacingAndGlyphs">0.0004</tspan></text>
<text class="al" y="2298.4" font-size="25.9"><tspan x="423.4" textLength="75.7" lengthAdjust="spacingAndGlyphs">0.0002</tspan></text>
<text class="al" y="2349.6" font-size="25.9"><tspan x="485.0" textLength="13.8" lengthAdjust="spacingAndGlyphs">0</tspan></text>
<rect x="560" y="2165.5" width="31.0" height="175.5" fill="#92d050"/>
<rect x="660.7" y="2339.8" width="31.8" height="1.2" fill="#ff0000"/>
<path stroke="#4a4a4a" stroke-width="1.9" fill="none" d="M575.2 2100.4V2231.2M568.4 2100.4h13.6M568.4 2231.2h13.6M676.7 2338.2V2340.2M669.9 2338.2h13.6M669.9 2340.2h13.6"/>
</g>
<g>
<text class="tt" y="2008.7" font-size="37.5"><tspan x="918.6" textLength="185.2" lengthAdjust="spacingAndGlyphs">Aquaporin</tspan></text>
<text class="tt" y="2052.0" font-size="37.5"><tspan x="963.1" textLength="106.4" lengthAdjust="spacingAndGlyphs">PIP2-2</tspan></text>
<path stroke="#d6d6d6" stroke-width="1.9" fill="none" d="M939.1 2086.5H1169.6M939.1 2137.2H1169.6M939.1 2187.4H1169.6M939.1 2237.6H1169.6M939.1 2287.7H1169.6M939.1 2337.9H1169.6"/>
<text class="al" y="2095.1" font-size="25.9"><tspan x="824.2" textLength="89.4" lengthAdjust="spacingAndGlyphs">0.00025</tspan></text>
<text class="al" y="2145.8" font-size="25.9"><tspan x="837.9" textLength="75.7" lengthAdjust="spacingAndGlyphs">0.0002</tspan></text>
<text class="al" y="2196.0" font-size="25.9"><tspan x="824.2" textLength="89.4" lengthAdjust="spacingAndGlyphs">0.00015</tspan></text>
<text class="al" y="2246.2" font-size="25.9"><tspan x="837.9" textLength="75.7" lengthAdjust="spacingAndGlyphs">0.0001</tspan></text>
<text class="al" y="2296.3" font-size="25.9"><tspan x="824.2" textLength="89.4" lengthAdjust="spacingAndGlyphs">0.00005</tspan></text>
<text class="al" y="2346.5" font-size="25.9"><tspan x="899.5" textLength="13.8" lengthAdjust="spacingAndGlyphs">0</tspan></text>
<rect x="978.5" y="2312" width="36.1" height="25.9" fill="#92d050"/>
<rect x="1094" y="2171.4" width="36.2" height="166.5" fill="#c00000"/>
<path stroke="#4a4a4a" stroke-width="1.9" fill="none" d="M996.7 2304.6V2318.4M989.9 2304.6h13.6M989.9 2318.4h13.6M1112.2 2128.7V2213.3M1105.4 2128.7h13.6M1105.4 2213.3h13.6"/>
</g>
<g>
<text class="tt" y="2010.1" font-size="37.5"><tspan x="1316.4" textLength="69.2" lengthAdjust="spacingAndGlyphs">60S </tspan><tspan x="1384.2" textLength="176.8" lengthAdjust="spacingAndGlyphs">ribosomal</tspan></text>
<text class="tt" y="2053.4" font-size="37.5"><tspan x="1324.9" textLength="134.8" lengthAdjust="spacingAndGlyphs">protein </tspan><tspan x="1458.7" textLength="92.7" lengthAdjust="spacingAndGlyphs">L39-3</tspan></text>
<path stroke="#d6d6d6" stroke-width="1.9" fill="none" d="M1328 2101.6H1587.7M1328 2162.6H1587.7M1328 2223H1587.7M1328 2283.6H1587.7M1328 2344H1587.7"/>
<text class="al" y="2110.2" font-size="25.9"><tspan x="1267.3" textLength="34.4" lengthAdjust="spacingAndGlyphs">0.2</tspan></text>
<text class="al" y="2171.2" font-size="25.9"><tspan x="1253.6" textLength="48.1" lengthAdjust="spacingAndGlyphs">0.15</tspan></text>
<text class="al" y="2231.6" font-size="25.9"><tspan x="1267.3" textLength="34.4" lengthAdjust="spacingAndGlyphs">0.1</tspan></text>
<text class="al" y="2292.2" font-size="25.9"><tspan x="1253.6" textLength="48.1" lengthAdjust="spacingAndGlyphs">0.05</tspan></text>
<text class="al" y="2352.6" font-size="25.9"><tspan x="1287.6" textLength="13.8" lengthAdjust="spacingAndGlyphs">0</tspan></text>
<rect x="1372.4" y="2291.3" width="40.5" height="52.7" fill="#92d050"/>
<rect x="1502.5" y="2161.2" width="40.6" height="182.8" fill="#ff0000"/>
<path stroke="#4a4a4a" stroke-width="1.9" fill="none" d="M1392.8 2282V2300.4M1386.0 2282h13.6M1386.0 2300.4h13.6M1522.9 2120.9V2201.4M1516.1 2120.9h13.6M1516.1 2201.4h13.6"/>
</g>
<g stroke="#1a1a1a" stroke-width="1.7" fill="none">
<line x1="7.5" y1="696.3" x2="1642.7" y2="696.3" stroke-width="1.7"/>
<line x1="7.5" y1="1101.8" x2="1642.7" y2="1101.8" stroke-width="1.7"/>
<line x1="7.5" y1="1520.5" x2="1642.7" y2="1520.5" stroke-width="1.7"/>
<line x1="7.5" y1="1955.7" x2="1642.7" y2="1955.7" stroke-width="1.7"/>
<line x1="1224.8" y1="305.6" x2="1640.6" y2="305.6" stroke-width="1.5"/>
<line x1="1225.7" y1="7" x2="1225.7" y2="2369"/>
<line x1="386" y1="699" x2="386" y2="2369"/>
<line x1="783" y1="699" x2="783" y2="2369"/>
</g>
</svg></body></html>
